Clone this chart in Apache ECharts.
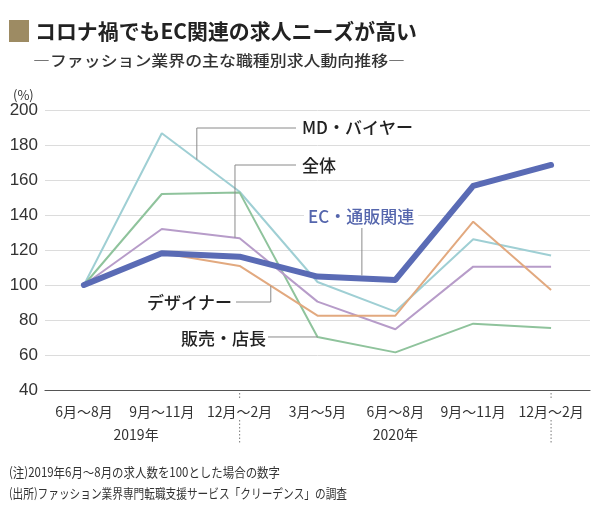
<!DOCTYPE html>
<html><head><meta charset="utf-8">
<script src="https://cdn.jsdelivr.net/npm/echarts@6/dist/echarts.min.js"></script>
<style>html,body{margin:0;padding:0;background:#fff}#c{width:600px;height:517px}</style>
</head><body><div id="c"></div>
<script>
const categories = ['6月～8月','9月～11月','12月～2月','3月～5月','6月～8月','9月～11月','12月～2月'];
const years = ['2019年','2020年'];
const yTicks = {min:40, max:200, interval:20};
const mdBuyer    = [100,186.7,153.3,101.7,84.8,126.1,116.8];
const overall    = [100,132.0,126.7,90.5,74.7,110.5,110.5];
const designer   = [100,118.3,110.9,82.5,82.5,136.2,97.1];
const salesStore = [100,152.0,152.8,70.3,61.5,77.9,75.4];
const ecMail     = [100,118.1,116.2,104.8,102.9,156.6,168.6];
const names = ['MD・バイヤー','全体','デザイナー','販売・店長','EC・通販関連'];

const JP = '"Noto Sans CJK JP", sans-serif';
const chart = echarts.init(document.getElementById('c'), null, {renderer:'canvas'});
const thin = (name, data, color) => ({name, type:'line', data, symbol:'none', lineStyle:{color, width:2}, itemStyle:{color}, z:2, silent:true});
chart.setOption({
  animation:false,
  backgroundColor:'#fff',
  grid:{left:45, right:10, top:110, bottom:127},
  xAxis:{type:'category', data:categories, boundaryGap:true,
    axisLine:{lineStyle:{color:'#555', width:1.2}}, axisTick:{show:false},
    axisLabel:{interval:0, color:'#333', fontSize:14, fontFamily:JP, margin:15}},
  yAxis:{type:'value', min:yTicks.min, max:yTicks.max, interval:yTicks.interval,
    axisLine:{show:false}, axisTick:{show:false},
    axisLabel:{color:'#333', fontSize:17, fontFamily:'"Liberation Sans", Arial, sans-serif', margin:7},
    splitLine:{lineStyle:{color:'#dcdcdc', width:1}}},
  series:[
    thin(names[0], mdBuyer, '#9fcfd4'),
    thin(names[3], salesStore, '#8fc39c'),
    thin(names[1], overall, '#b79cc9'),
    thin(names[2], designer, '#e2a97f'),
    {name:names[4], type:'line', data:ecMail, symbol:'none', lineStyle:{color:'#5a6bb5', width:6, cap:'round', join:'round'}, z:5, silent:true}
  ]
});

function P(i, v){ return chart.convertToPixel({gridIndex:0}, [i, v]); }
function interpX(t){ const a=Math.floor(t), b=Math.min(a+1,categories.length-1); const xa=P(a,100)[0], xb=P(b,100)[0]; return xa+(xb-xa)*(t-a); }
function onLine(arr, t){ const a=Math.floor(t), b=Math.min(a+1,arr.length-1); const v=arr[a]+(arr[b]-arr[a])*(t-a); return [interpX(t), P(0,v)[1]]; }

const cv=document.createElement('canvas').getContext('2d');
function fit(text, font, target){ cv.font=font; const w=cv.measureText(text).width; return target/w; }

const g=[];
const LC='#8a8a8a';
function line(pts){ g.push({type:'polyline', shape:{points:pts}, style:{stroke:LC, lineWidth:1, fill:null}, z:10, silent:true}); }
function label(text, x, y, color, bg){ g.push({type:'text', x, y, style:{text, fill:color||'#222', font:'500 17px '+JP, textVerticalAlign:'middle', backgroundColor:bg||null, padding:bg?[2,4]:0}, z:11}); }

// title
g.push({type:'rect', shape:{x:9, y:20, width:20, height:22}, style:{fill:'#9d8b63'}});
const tFont='bold 21px '+JP;
g.push({type:'text', x:35, y:31, scaleX:fit('コロナ禍でもEC関連の求人ニーズが高い', tFont, 382), style:{text:'コロナ禍でもEC関連の求人ニーズが高い', font:tFont, fill:'#222', textVerticalAlign:'middle'}});
const sFont='500 15px '+JP;
const sub='―ファッション業界の主な職種別求人動向推移―';
g.push({type:'text', x:33, y:60, scaleX:fit(sub, sFont, 372), style:{text:sub, font:sFont, fill:'#333', textVerticalAlign:'middle'}});
g.push({type:'text', x:13, y:95, style:{text:'(%)', font:'13px '+JP, fill:'#333', textVerticalAlign:'middle'}});

// leaders
const mdB=onLine(mdBuyer,1.45);
line([[mdB[0],mdB[1]],[mdB[0],128],[296,128]]);
label(names[0], 302, 128);
const ovB=onLine(overall,1.94);
line([[ovB[0],ovB[1]],[ovB[0],165],[296,165]]);
label(names[1], 302, 166);
const ecB=onLine(ecMail,3.57);
line([[ecB[0],ecB[1]-3],[ecB[0],228]]);
label(names[4], 304, 217, '#5566ad', '#fff');
const dsB=onLine(designer,2.4);
line([[dsB[0],dsB[1]],[dsB[0],302],[236,302]]);
label(names[2], 147, 303);
const ssB=onLine(salesStore,3);
line([[ssB[0],ssB[1]],[268,ssB[1]]]);
label(names[3], 181, 339);

// year labels and dotted separators
const yBase=P(0,40)[1];
[[2],[6]].forEach(([i])=>{
  const x=P(i,100)[0];
  g.push({type:'line', shape:{x1:x,y1:yBase+3,x2:x,y2:yBase+10}, style:{stroke:'#777', lineWidth:1, lineDash:[1.5,2]}});
  g.push({type:'line', shape:{x1:x,y1:yBase+30,x2:x,y2:yBase+53}, style:{stroke:'#777', lineWidth:1, lineDash:[1.5,2]}});
});
g.push({type:'text', x:interpX(0.67), y:yBase+45, style:{text:years[0], font:'14px '+JP, fill:'#333', textAlign:'center', textVerticalAlign:'middle'}});
g.push({type:'text', x:interpX(4), y:yBase+45, style:{text:years[1], font:'14px '+JP, fill:'#333', textAlign:'center', textVerticalAlign:'middle'}});

// notes
const nFont='13px '+JP;
const n1='(注)2019年6月～8月の求人数を100とした場合の数字';
const n2='(出所)ファッション業界専門転職支援サービス「クリーデンス」の調査';
g.push({type:'text', x:9, y:472, scaleX:fit(n1,nFont,271), style:{text:n1, font:nFont, fill:'#333', textVerticalAlign:'middle'}});
g.push({type:'text', x:9, y:493, scaleX:fit(n2,nFont,338), style:{text:n2, font:nFont, fill:'#333', textVerticalAlign:'middle'}});

chart.setOption({graphic:g});
</script></body></html>
